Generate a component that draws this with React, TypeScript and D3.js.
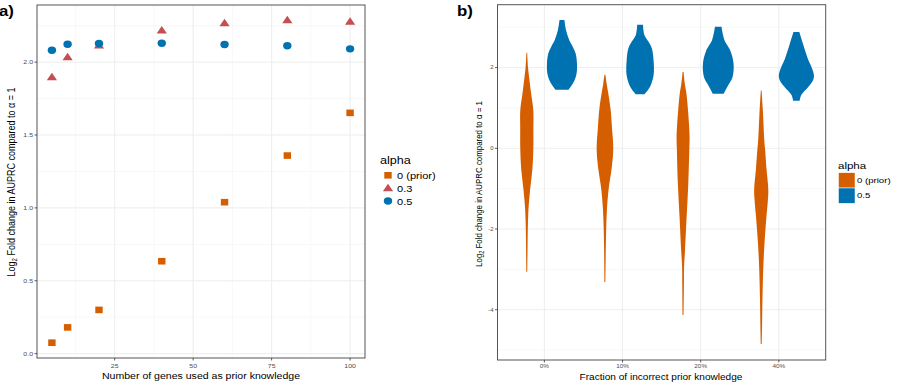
import React from 'react';
import * as d3 from 'd3';

// panel a: points
const genes = [5, 10, 20, 40, 60, 80, 100];
const alphaPrior = [0.075, 0.18, 0.3, 0.634, 1.039, 1.359, 1.652];
const alpha03 = [1.897, 2.034, 2.114, 2.217, 2.267, 2.287, 2.277];
const alpha05 = [2.082, 2.123, 2.128, 2.13, 2.121, 2.112, 2.091];

const xTicksA = [25, 50, 75, 100];
const yTicksA = [0, 0.5, 1, 1.5, 2];
const legendA = ['0 (prior)', '0.3', '0.5'];

// panel b: violin outlines, [log2 value, relative density]
const fractions = ['0%', '10%', '20%', '40%'];
const violinPrior: [number, number][][] = [
  [[2.37, 0.8], [2.0, 2.5], [1.77, 4.7], [1.37, 8.7], [0.95, 13.3], [0.5, 13.5], [-0.04, 13.3], [-0.54, 11.3], [-1.03, 6.7], [-1.53, 3.3], [-2.02, 2], [-2.5, 1.5], [-3.06, 1]],
  [[1.82, 1], [1.6, 3.5], [1.37, 6.7], [0.95, 11.7], [0.5, 14.5], [0.13, 16.7], [-0.12, 16.7], [-0.54, 13.3], [-1.03, 7.3], [-1.53, 4], [-2.02, 2.5], [-2.52, 1.7], [-3.31, 1]],
  [[1.89, 1], [1.6, 3.5], [1.37, 6.7], [0.95, 10], [0.29, 13.3], [-0.04, 12.7], [-0.87, 10.7], [-1.69, 7.3], [-2.52, 4], [-2.93, 2], [-3.35, 1.7], [-4.13, 1]],
  [[1.43, 0.8], [0.95, 3.3], [0.5, 5], [0.13, 6.7], [-0.04, 8], [-0.54, 11], [-1.03, 14.5], [-1.3, 13.5], [-1.69, 10.7], [-2.35, 6.7], [-2.93, 4.3], [-3.76, 2.5], [-4.42, 1.7], [-4.85, 1]],
];
const violinHalf: [number, number][][] = [
  [[3.18, 5], [2.93, 8.3], [2.68, 15], [2.52, 22], [2.35, 28], [2.11, 30.7], [1.86, 30], [1.69, 26], [1.53, 18.3], [1.45, 13.3]],
  [[3.06, 6], [2.81, 8.7], [2.64, 17.3], [2.48, 24], [2.15, 27.7], [1.82, 27.7], [1.57, 22], [1.4, 13.3], [1.34, 9]],
  [[3.01, 6.7], [2.68, 12.7], [2.44, 24], [2.11, 31.3], [1.77, 29.3], [1.57, 20.7], [1.35, 11]],
  [[2.88, 6], [2.6, 13.3], [2.27, 22], [1.77, 36], [1.53, 25], [1.32, 10], [1.18, 6.7]],
];
const yTicksB = [-4, -2, 0, 2];
const legendB = ['0 (prior)', '0.5'];

const ORANGE = '#D55E00';
const RED = '#C44E52';
const BLUE = '#0072B2';
const FONT = '"Liberation Sans", Arial, sans-serif';
const SX = 1.2; // the reference text is a bit wider than tall

// text stretched horizontally like the reference
const T = ({ x, y, size, anchor = 'start', fill = '#000', rot = false, bold = false, children }: any) => (
  <text
    transform={`translate(${x},${y}) scale(${SX},1)${rot ? ' rotate(-90)' : ''}`}
    fontSize={size}
    textAnchor={anchor}
    fill={fill}
    fontWeight={bold ? 'bold' : 'normal'}
    fontFamily={FONT}
  >
    {children}
  </text>
);

const PanelA = () => {
  const x = d3.scaleLinear().domain([0.25, 104.75]).range([37, 365]);
  const y = d3.scaleLinear().domain([-0.03, 2.392]).range([358, 5]);
  const minorX = xTicksA.map(t => t - 12.5);
  const minorY = yTicksA.map(t => t + 0.25);
  const tri = d3.symbol(d3.symbolTriangle, 36)()!;
  return (
    <g>
      <T x={-1} y={16} size={14} bold>a)</T>
      {minorX.map(t => <line key={'mx' + t} x1={x(t)} x2={x(t)} y1={5} y2={358} stroke="#F4F4F4" strokeWidth={0.6} />)}
      {minorY.map(t => <line key={'my' + t} x1={37} x2={365} y1={y(t)} y2={y(t)} stroke="#F4F4F4" strokeWidth={0.6} />)}
      {xTicksA.map(t => <line key={'gx' + t} x1={x(t)} x2={x(t)} y1={5} y2={358} stroke="#EBEBEB" strokeWidth={0.9} />)}
      {yTicksA.map(t => <line key={'gy' + t} x1={37} x2={365} y1={y(t)} y2={y(t)} stroke="#EBEBEB" strokeWidth={0.9} />)}
      {genes.map((g, i) => <rect key={'s' + g} x={x(g) - 3.7} y={y(alphaPrior[i]) - 3.3} width={7.4} height={6.6} fill={ORANGE} />)}
      {genes.map((g, i) => <path key={'t' + g} d={tri} transform={`translate(${x(g)},${y(alpha03[i]) + 0.5}) scale(1.12,0.95)`} fill={RED} />)}
      {genes.map((g, i) => <ellipse key={'c' + g} cx={x(g)} cy={y(alpha05[i])} rx={4.2} ry={3.7} fill={BLUE} />)}
      <rect x={37} y={5} width={328} height={353} fill="none" stroke="#555" strokeWidth={1} />
      {xTicksA.map(t => (
        <g key={'xt' + t}>
          <line x1={x(t)} x2={x(t)} y1={358} y2={360.5} stroke="#333" strokeWidth={0.8} />
          <T x={x(t)} y={367.5} size={5.8} fill="#4D4D4D" anchor="middle">{t}</T>
        </g>
      ))}
      {yTicksA.map(t => (
        <g key={'yt' + t}>
          <line x1={34.5} x2={37} y1={y(t)} y2={y(t)} stroke="#333" strokeWidth={0.8} />
          <T x={33} y={y(t) + 2} size={5.8} fill="#4D4D4D" anchor="end">{t.toFixed(1)}</T>
        </g>
      ))}
      <T x={201} y={378.5} size={8.8} anchor="middle">Number of genes used as prior knowledge</T>
      <T x={15} y={182} size={9} anchor="middle" rot>
        Log<tspan fontSize={6} dy={2}>2</tspan><tspan dy={-2}> Fold change in AUPRC compared to α = 1</tspan>
      </T>
      <T x={380} y={164} size={10.5}>alpha</T>
      <rect x={384.3} y={172} width={7.4} height={6.6} fill={ORANGE} />
      <path d={tri} transform="translate(388,188.8) scale(1.12,0.95)" fill={RED} />
      <ellipse cx={388} cy={201} rx={4.2} ry={3.7} fill={BLUE} />
      {legendA.map((l, i) => (
        <T key={l} x={397} y={178.8 + i * 13} size={9.2}>{l}</T>
      ))}
    </g>
  );
};

const PanelB = () => {
  const x = d3.scaleLinear().domain([0.4, 4.6]).range([497.5, 825.7]);
  const y = d3.scaleLinear().domain([-5.246, 3.559]).range([360, 4.7]);
  const unit = x(1) - x(0);
  const w = d3.scaleLinear().domain([0, 36]).range([0, 0.45 * unit / 2]);
  const minorY = [-5, -3, -1, 1, 3];
  const violin = (pts: [number, number][], cx: number) =>
    d3.area<[number, number]>()
      .y(d => y(d[0]))
      .x0(d => cx - w(d[1]))
      .x1(d => cx + w(d[1]))
      .curve(d3.curveCatmullRom)(pts)!;
  return (
    <g>
      <T x={457} y={16} size={14} bold>b)</T>
      {minorY.map(t => <line key={'my' + t} x1={497.5} x2={825.7} y1={y(t)} y2={y(t)} stroke="#F4F4F4" strokeWidth={0.6} />)}
      {fractions.map((f, i) => <line key={'gx' + f} x1={x(i + 1)} x2={x(i + 1)} y1={4.7} y2={360} stroke="#EBEBEB" strokeWidth={0.9} />)}
      {yTicksB.map(t => <line key={'gy' + t} x1={497.5} x2={825.7} y1={y(t)} y2={y(t)} stroke="#EBEBEB" strokeWidth={0.9} />)}
      {fractions.map((f, i) => (
        <g key={'v' + f}>
          <path d={violin(violinPrior[i], x(i + 1 - 0.225))} fill={ORANGE} />
          <path d={violin(violinHalf[i], x(i + 1 + 0.225))} fill={BLUE} />
        </g>
      ))}
      <rect x={497.5} y={4.7} width={328.2} height={355.3} fill="none" stroke="#555" strokeWidth={1} />
      {fractions.map((f, i) => (
        <g key={'xt' + f}>
          <line x1={x(i + 1)} x2={x(i + 1)} y1={360} y2={362.5} stroke="#333" strokeWidth={0.8} />
          <T x={x(i + 1)} y={368} size={5.3} fill="#4D4D4D" anchor="middle">{f}</T>
        </g>
      ))}
      {yTicksB.map(t => (
        <g key={'yt' + t}>
          <line x1={495} x2={497.5} y1={y(t)} y2={y(t)} stroke="#333" strokeWidth={0.8} />
          <T x={493.5} y={y(t) + 1.8} size={5} fill="#4D4D4D" anchor="end">{t}</T>
        </g>
      ))}
      <T x={661} y={379.5} size={8.4} anchor="middle">Fraction of incorrect prior knowledge</T>
      <T x={482} y={184} size={7.9} anchor="middle" rot>
        Log<tspan fontSize={5.5} dy={2}>2</tspan><tspan dy={-2}> Fold change in AUPRC compared to α = 1</tspan>
      </T>
      <T x={838} y={168.5} size={9.6}>alpha</T>
      <rect x={838.5} y={172.7} width={16.5} height={15.3} fill={ORANGE} stroke="#fff" strokeWidth={0.5} />
      <rect x={838.5} y={188} width={16.5} height={15.3} fill={BLUE} stroke="#fff" strokeWidth={0.5} />
      {legendB.map((l, i) => (
        <T key={l} x={857} y={183 + i * 15.3} size={8}>{l}</T>
      ))}
    </g>
  );
};

export default function App() {
  return (
    <svg width={900} height={385} style={{ position: 'absolute', left: 0, top: 0, background: '#fff' }}>
      <PanelA />
      <PanelB />
    </svg>
  );
}
